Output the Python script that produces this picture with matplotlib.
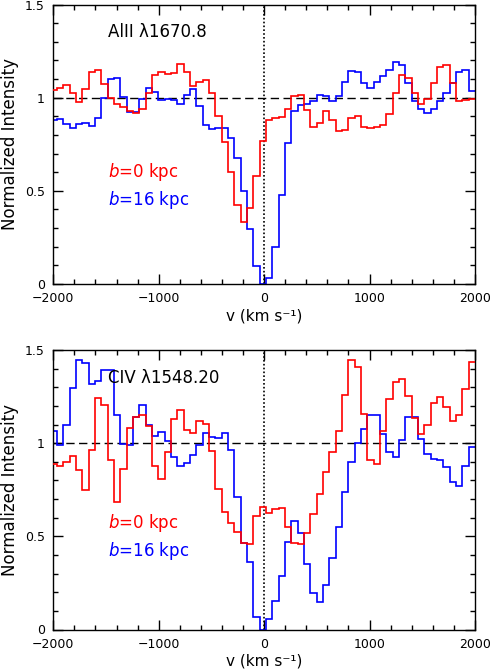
import numpy as np
import matplotlib
matplotlib.use("Agg")
import matplotlib.pyplot as plt
from matplotlib.ticker import MultipleLocator, FuncFormatter

# velocity bin grid (km/s): bin edges start and width
bin_start = -2026.0
bin_width = 60.1
n_bins = 67

# Al II 1670.8 panel
al_b0 = [1.041, 1.054, 1.068, 1.027, 0.977, 1.048, 1.138, 1.147, 1.072, 1.000,
         0.968, 0.950, 0.928, 0.919, 0.937, 1.023, 1.120, 1.140, 1.126, 1.135,
         1.180, 1.140, 1.063, 1.084, 1.095, 1.023, 0.901, 0.760, 0.601, 0.422,
         0.335, 0.407, 0.578, 0.767, 0.880, 0.892, 0.896, 0.937, 1.009, 1.014,
         0.934, 0.842, 0.865, 0.928, 0.878, 0.820, 0.829, 0.892, 0.901, 0.844,
         0.838, 0.844, 0.853, 0.910, 1.027, 1.122, 1.108, 1.027, 0.964, 0.991,
         1.081, 1.162, 1.176, 1.081, 0.982, 0.986, 0.995]
al_b16 = [0.878, 0.883, 0.856, 0.838, 0.856, 0.865, 0.847, 0.892, 1.000, 1.099,
          1.104, 1.004, 0.923, 0.923, 0.995, 1.054, 1.032, 0.990, 0.995, 0.986,
          0.964, 1.013, 1.045, 0.955, 0.851, 0.833, 0.838, 0.838, 0.785, 0.677,
          0.500, 0.294, 0.099, 0.000, 0.034, 0.200, 0.476, 0.758, 0.928, 0.961,
          0.968, 0.982, 1.013, 1.009, 0.982, 1.009, 1.084, 1.144, 1.140, 1.077,
          1.054, 1.086, 1.117, 1.147, 1.192, 1.174, 1.077, 0.982, 0.937, 0.919,
          0.937, 0.982, 1.027, 1.081, 1.138, 1.147, 1.036]

# C IV 1548.20 panel
civ_b0 = [0.890, 0.880, 0.900, 0.933, 0.857, 0.749, 0.964, 1.242, 1.206, 0.910,
          0.686, 0.860, 1.081, 1.140, 1.150, 1.090, 0.880, 0.806, 0.955, 1.132,
          1.180, 1.070, 1.052, 1.117, 1.103, 0.960, 0.756, 0.628, 0.570, 0.522,
          0.465, 0.460, 0.610, 0.659, 0.627, 0.645, 0.654, 0.552, 0.462, 0.457,
          0.517, 0.620, 0.728, 0.844, 0.955, 1.067, 1.256, 1.449, 1.408, 1.158,
          0.910, 0.890, 1.067, 1.238, 1.328, 1.344, 1.254, 1.134, 1.049, 1.099,
          1.215, 1.246, 1.192, 1.121, 1.152, 1.292, 1.437]
civ_b16 = [1.066, 0.991, 1.097, 1.294, 1.448, 1.430, 1.319, 1.335, 1.394, 1.390,
           1.152, 0.995, 0.991, 1.143, 1.206, 1.099, 1.036, 1.058, 1.012, 0.925,
           0.875, 0.892, 0.937, 0.991, 1.057, 1.032, 1.030, 1.057, 0.964, 0.713,
           0.462, 0.364, 0.068, 0.000, 0.057, 0.153, 0.285, 0.470, 0.583, 0.519,
           0.354, 0.196, 0.148, 0.237, 0.384, 0.551, 0.736, 0.898, 1.000, 1.075,
           1.153, 1.153, 1.050, 0.950, 0.928, 1.018, 1.143, 1.138, 1.023, 0.943,
           0.916, 0.910, 0.870, 0.792, 0.768, 0.875, 0.977]

panel_titles = ["AlII λ1670.8", "CIV λ1548.20"]
legend_labels = ["$b$=0 kpc", "$b$=16 kpc"]
series_colors = ["#ff0000", "#0000ff"]
x_ticks = [-2000, -1000, 0, 1000, 2000]
y_ticks = [0, 0.5, 1, 1.5]

edges = bin_start + bin_width * np.arange(n_bins + 1)

plt.rcParams['font.family'] = ['DejaVu Sans']
plt.rcParams['mathtext.fontset'] = 'dejavusans'

W, H = 493, 672
fig = plt.figure(figsize=(W / 100, H / 100), dpi=100)

def px_axes(left, top, right, bottom):
    return fig.add_axes([left / W, 1 - bottom / H, (right - left) / W, (bottom - top) / H])

axes = [px_axes(53.3, 4.5, 475.0, 284.0), px_axes(53.3, 350.0, 475.0, 629.5)]
data = [(al_b0, al_b16), (civ_b0, civ_b16)]
label_y = [(1.355, 0.603, 0.452), (1.352, 0.571, 0.421)]

for ax, (s0, s16), title, (ty, ly0, ly16) in zip(axes, data, panel_titles, label_y):
    ax.axhline(1.0, color='black', lw=1.0, ls=(0, (6, 3.2)), zorder=1)
    ax.axvline(0.0, color='black', lw=1.2, ls=(0, (1, 1.3)), zorder=1)
    ax.stairs(s0, edges, baseline=None, color=series_colors[0], lw=1.2, zorder=3)
    ax.stairs(s16, edges, baseline=None, color=series_colors[1], lw=1.2, zorder=2)
    ax.set_xlim(-2000, 2000)
    ax.set_ylim(0, 1.5)
    ax.set_xticks(x_ticks)
    ax.set_yticks(y_ticks)
    ax.xaxis.set_minor_locator(MultipleLocator(200))
    ax.yaxis.set_minor_locator(MultipleLocator(0.1))
    ax.yaxis.set_major_formatter(FuncFormatter(lambda v, p: f"{v:g}"))
    ax.xaxis.set_major_formatter(FuncFormatter(lambda v, p: f"{int(v)}".replace("-", "\u2212")))
    ax.tick_params(which='both', direction='in', top=True, right=True, labelsize=9, width=1.0)
    ax.tick_params(which='major', length=7, pad=6)
    ax.tick_params(which='minor', length=3.5)
    for sp in ax.spines.values():
        sp.set_linewidth(1.0)
    ax.set_xlabel("v (km s⁻¹)", fontsize=11, labelpad=2)
    ax.set_ylabel("Normalized Intensity", fontsize=12, labelpad=4)
    ax.text(-1480, ty, title, fontsize=12, color='black', ha='left', va='center')
    ax.text(-1480, ly0, legend_labels[0], fontsize=12, color=series_colors[0], ha='left', va='center')
    ax.text(-1480, ly16, legend_labels[1], fontsize=12, color=series_colors[1], ha='left', va='center')

fig.savefig("out.png", dpi=100)
